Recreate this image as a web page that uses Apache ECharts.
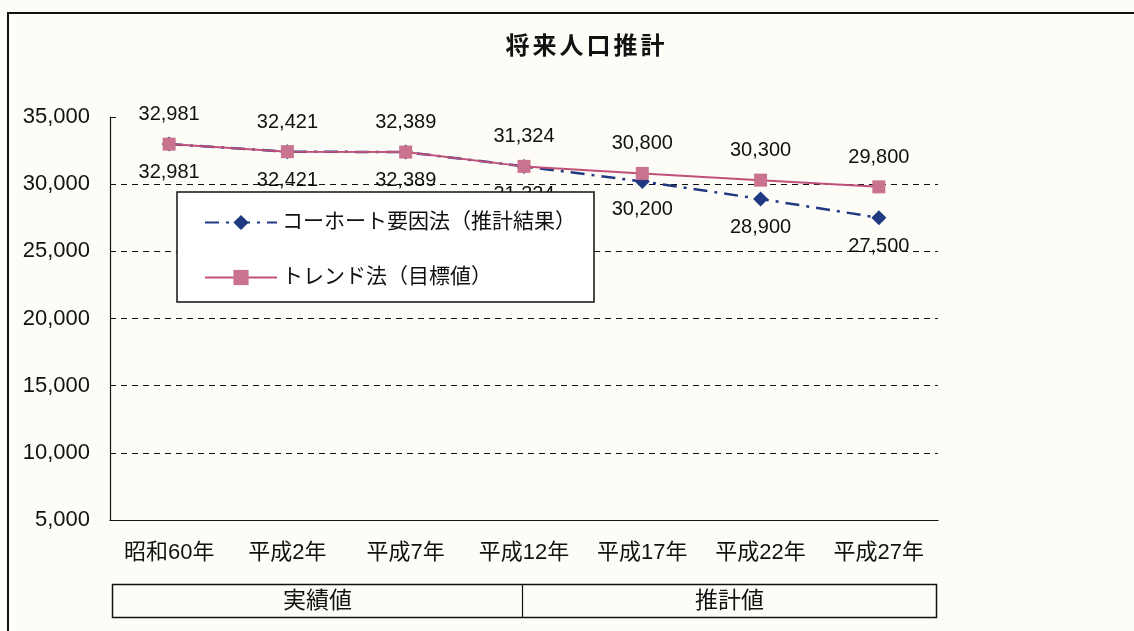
<!DOCTYPE html>
<html>
<head>
<meta charset="utf-8">
<script src="https://cdn.jsdelivr.net/npm/echarts@6/dist/echarts.min.js"></script>
<style>
  html, body { margin: 0; padding: 0; background: #fdfcf7; }
  #main { width: 1134px; height: 631px; }
</style>
</head>
<body>
<div id="main"></div>
<script>
var years = ['昭和60年', '平成2年', '平成7年', '平成12年', '平成17年', '平成22年', '平成27年'];
var cohortName = 'コーホート要因法（推計結果）';
var trendName = 'トレンド法（目標値）';
var cohort = [32981, 32421, 32389, 31324, 30200, 28900, 27500];
var trend = [32981, 32421, 32389, 31324, 30800, 30300, 29800];
var periods = ['実績値', '推計値'];
var titleText = '将来人口推計';

var FONT = "'Liberation Sans', 'Noto Sans CJK JP', sans-serif";

var chart = echarts.init(document.getElementById('main'));

function fmt(p) {
  return Number(p.value).toLocaleString('en-US');
}

// spread title characters a little, like the original
var spacedTitle = titleText.split('').map(function (c) { return '{s|' + c + '}'; }).join('');

var option = {
  backgroundColor: '#fdfcf7',
  animation: false,
  textStyle: { fontFamily: FONT, color: '#111' },
  title: {
    text: spacedTitle,
    left: 580,
    textAlign: 'center',
    top: 30,
    textStyle: {
      fontSize: 24, fontWeight: 'bold', color: '#111', fontFamily: FONT,
      rich: { s: { fontSize: 24, fontWeight: 'bold', color: '#111', fontFamily: FONT, padding: [0, 1.5] } }
    }
  },
  legend: {
    orient: 'vertical',
    left: 177,
    top: 192,
    padding: [20, 18, 14, 27],
    itemGap: 34,
    itemWidth: 72,
    itemHeight: 19,
    backgroundColor: '#ffffff',
    borderColor: '#111',
    borderWidth: 1.5,
    data: [cohortName, trendName],
    textStyle: { fontSize: 21, color: '#111', fontFamily: FONT }
  },
  grid: { left: 110, right: 196, top: 117, bottom: 111 },
  xAxis: {
    type: 'category',
    data: years,
    boundaryGap: true,
    axisLine: { lineStyle: { color: '#111', width: 1.2 } },
    axisTick: { inside: true, length: 7, lineStyle: { color: '#111' } },
    axisLabel: { interval: 0, fontSize: 22, color: '#111', margin: 22, fontFamily: FONT }
  },
  yAxis: {
    type: 'value',
    min: 5000,
    max: 35000,
    interval: 5000,
    axisLine: { show: true, lineStyle: { color: '#111', width: 1.2 } },
    axisTick: { show: true, inside: true, length: 6, lineStyle: { color: '#111' } },
    axisLabel: {
      fontSize: 22, color: '#111', margin: 20, fontFamily: FONT,
      formatter: function (v) { return v.toLocaleString('en-US'); }
    },
    splitLine: {
      show: true,
      lineStyle: {
        color: ['#111', '#111', '#111', '#111', '#111', '#111', 'rgba(0,0,0,0)'],
        type: [6, 5],
        width: 1
      }
    }
  },
  series: [
    {
      name: cohortName,
      type: 'line',
      data: cohort,
      symbol: 'diamond',
      symbolSize: 15,
      itemStyle: { color: '#1f3a80' },
      lineStyle: { color: '#1f3a80', width: 2.5, type: [14, 7, 3, 7] },
      label: {
        show: true, position: 'bottom', distance: 11,
        fontSize: 20, color: '#111', fontFamily: FONT, formatter: fmt
      },
      z: 2
    },
    {
      name: trendName,
      type: 'line',
      data: trend,
      symbol: 'rect',
      symbolSize: 13,
      itemStyle: { color: '#c9738e' },
      lineStyle: { color: '#c0507a', width: 2 },
      label: {
        show: true, position: 'top', distance: 13,
        fontSize: 20, color: '#111', fontFamily: FONT, formatter: fmt
      },
      z: 3
    }
  ],
  graphic: [
    {
      type: 'rect',
      shape: { x: 8, y: 13, width: 1200, height: 700 },
      style: { fill: 'none', stroke: '#111', lineWidth: 2 },
      silent: true
    },
    {
      type: 'group',
      left: 110,
      top: 582,
      children: [
        {
          type: 'rect',
          shape: { x: 0, y: 0, width: 824, height: 33 },
          style: { fill: 'none', stroke: '#111', lineWidth: 1.5 }
        },
        {
          type: 'line',
          shape: { x1: 410, y1: 0, x2: 410, y2: 33 },
          style: { stroke: '#111', lineWidth: 1.2 }
        },
        {
          type: 'text',
          x: 205, y: 17,
          style: { text: periods[0], fontSize: 23, fontFamily: FONT, fill: '#111', align: 'center', verticalAlign: 'middle' }
        },
        {
          type: 'text',
          x: 617, y: 17,
          style: { text: periods[1], fontSize: 23, fontFamily: FONT, fill: '#111', align: 'center', verticalAlign: 'middle' }
        }
      ]
    }
  ]
};

chart.setOption(option);
window.addEventListener('resize', function () {
  chart.resize();
});
</script>
</body>
</html>
